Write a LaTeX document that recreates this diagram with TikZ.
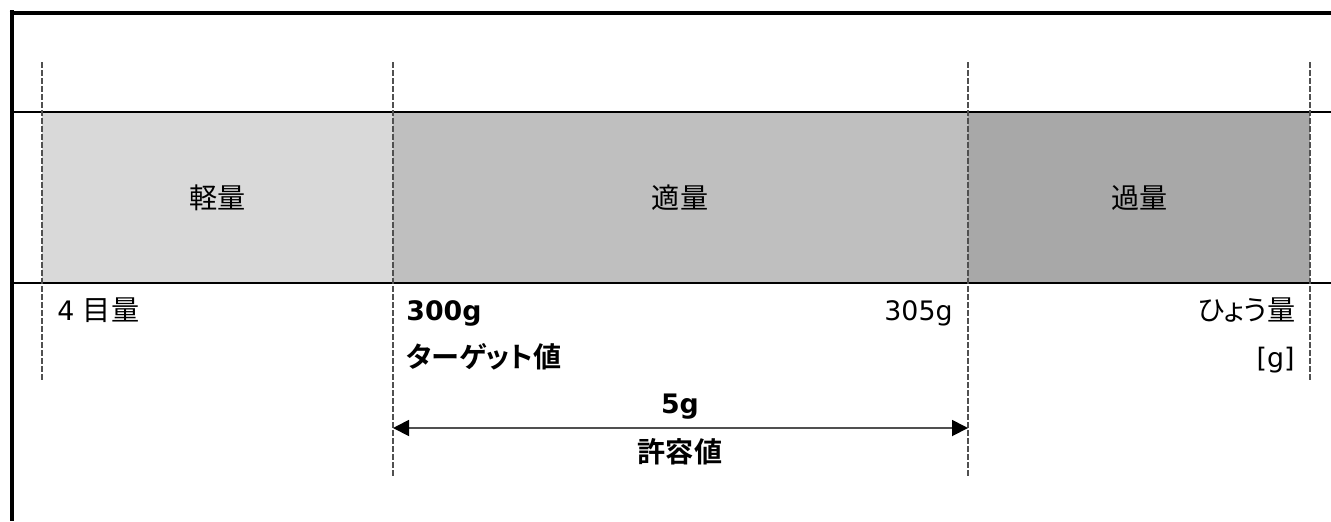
\documentclass[tikz,border=0pt]{standalone}
\usepackage{fontspec}
\setmainfont{DejaVu Sans}
\newfontfamily\jp[RawFeature=+palt,Scale=1.05,BoldFont={Noto Sans CJK JP Bold}]{Noto Sans CJK JP}
\usepackage{xcolor}
\usetikzlibrary{arrows.meta,positioning,calc}

\definecolor{lightband}{HTML}{D9D9D9}
\definecolor{midband}{HTML}{BFBFBF}
\definecolor{darkband}{HTML}{A8A8A8}
\definecolor{guidegray}{HTML}{505050}

\begin{document}
\begin{tikzpicture}[x=0.5pt, y=-0.5pt,
    font=\fontsize{13.4}{16}\selectfont,
    frame/.style={line width=2pt, black},
    rule/.style={line width=1pt, black},
    guide/.style={draw=guidegray, line width=0.75pt, dash pattern=on 3pt off 1pt},
    dimarrow/.style={draw=guidegray, line width=0.9pt,
        {Triangle[length=8pt, width=8pt, black]}-{Triangle[length=8pt, width=8pt, black]}},
    lbl/.style={inner sep=0pt}]
    \useasboundingbox (0,0) rectangle (1331,521);

    % Bands
    \fill[lightband] (42,112) rectangle (393,282);
    \fill[midband] (393,112) rectangle (968,282);
    \fill[darkband] (968,112) rectangle (1310,282);

    % Frame and rules
    \draw[frame] (11.5,10) -- (11.5,521);
    \draw[frame] (9.5,12.5) -- (1331,12.5);
    \draw[rule] (11,111.5) -- (1331,111.5);
    \draw[rule] (11,282.5) -- (1331,282.5);

    % Guide lines
    \coordinate (g1top) at (42,62);
    \coordinate (g1bot) at (42,380);
    \coordinate (g2top) at (393,62);
    \coordinate (g2bot) at (393,478);
    \coordinate (g3top) at (968,62);
    \coordinate (g3bot) at (968,478);
    \coordinate (g4top) at (1310,62);
    \coordinate (g4bot) at (1310,380);
    \foreach \g in {1,2,3,4}
        \draw[guide] (g\g top) -- (g\g bot);

    % Band labels
    \node[lbl] (light) at (217.5,198) {\jp 軽量};
    \node[lbl] (proper) at (680,198) {\jp 適量};
    \node[lbl] (over) at (1139.5,198) {\jp 過量};

    % Scale values
    \node[lbl, anchor=base west] (unit) at (57,320) {4 {\jp 目量}};
    \node[lbl, anchor=base west] (target) at (406,320) {\bfseries 300g};
    \node[lbl, anchor=base west] (targetname) at (406,367) {\jp\bfseries ターゲット値};
    \node[lbl, anchor=base east] (upper) at (953,320) {305g};
    \node[lbl, anchor=base east] (capacity) at (1296,320) {\jp ひょう量};
    \node[lbl, anchor=base east] (gram) at (1295,367) {[g]};

    % Tolerance
    \coordinate (tolleft) at (393,428);
    \coordinate (tolright) at (968,428);
    \draw[dimarrow] (tolleft) -- (tolright);
    \node[lbl, anchor=base] (tolvalue) at (680,413) {\bfseries 5g};
    \node[lbl] (tolname) at (680,451.5) {\jp\bfseries 許容値};
\end{tikzpicture}
\end{document}
